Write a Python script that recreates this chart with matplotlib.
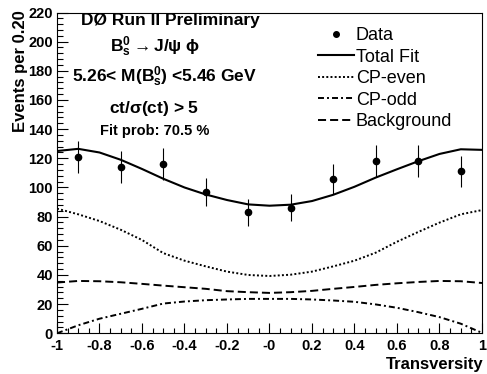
import numpy as np
import matplotlib
matplotlib.use("Agg")
import matplotlib.pyplot as plt
from matplotlib.lines import Line2D

plt.rcParams['font.family'] = ['Liberation Sans', 'DejaVu Sans']
plt.rcParams['mathtext.fontset'] = 'custom'
plt.rcParams['mathtext.rm'] = 'Liberation Sans:bold'
plt.rcParams['mathtext.it'] = 'Liberation Sans:bold'
plt.rcParams['mathtext.bf'] = 'Liberation Sans:bold'
plt.rcParams['lines.scale_dashes'] = False

# binned data (bin width 0.2 in transversity)
bin_centers = [-0.9, -0.7, -0.5, -0.3, -0.1, 0.1, 0.3, 0.5, 0.7, 0.9]
counts = [121, 114, 116, 97, 83, 86, 106, 118, 118, 111]
count_errors = [11.0, 10.7, 10.8, 9.8, 9.1, 9.3, 10.3, 10.9, 10.9, 10.5]

# fit curves sampled every 0.1
curve_x = [-1.0, -0.9, -0.8, -0.7, -0.6, -0.5, -0.4, -0.3, -0.2, -0.1, 0.0,
           0.1, 0.2, 0.3, 0.4, 0.5, 0.6, 0.7, 0.8, 0.9, 1.0]
total_fit = [125.0, 126.5, 124.0, 119.0, 112.7, 106.0, 100.0, 95.2, 91.4, 88.4, 87.5,
             88.2, 90.7, 95.0, 100.5, 106.8, 112.5, 118.0, 123.0, 126.2, 125.8]
cp_even = [85.5, 81.6, 77.0, 71.0, 64.0, 55.0, 49.8, 45.9, 42.3, 40.0, 39.3,
           40.2, 42.3, 45.9, 49.8, 55.3, 62.8, 69.5, 75.9, 81.6, 84.5]
cp_odd = [0.0, 5.5, 10.0, 13.4, 16.8, 20.4, 21.8, 22.7, 23.2, 23.6, 23.6,
          23.6, 23.2, 22.5, 21.6, 19.8, 17.5, 14.5, 11.1, 6.6, 0.3]
background = [34.8, 35.9, 35.7, 35.0, 33.9, 32.7, 31.6, 30.5, 28.9, 28.2, 27.7,
              28.2, 29.1, 30.5, 31.8, 33.2, 34.3, 35.2, 35.9, 35.7, 34.5]

x_ticks = [-1.0, -0.8, -0.6, -0.4, -0.2, 0.0, 0.2, 0.4, 0.6, 0.8, 1.0]
x_tick_labels = ['-1', '-0.8', '-0.6', '-0.4', '-0.2', '-0', '0.2', '0.4', '0.6', '0.8', '1']
y_ticks = [0, 20, 40, 60, 80, 100, 120, 140, 160, 180, 200, 220]

W, H = 487, 374
fig = plt.figure(figsize=(W / 100, H / 100), dpi=100)
ax = fig.add_axes([57 / W, 1 - 333.3 / H, (482 - 57) / W, (333.3 - 12.5) / H])

ax.plot(curve_x, total_fit, color='black', lw=1.5, label='Total Fit')
ax.plot(curve_x, cp_even, color='black', lw=1.4, dashes=(1.4, 1.6), label='CP-even')
ax.plot(curve_x, cp_odd, color='black', lw=1.4, dashes=(4.3, 2.2, 1.4, 2.2), label='CP-odd')
ax.plot(curve_x, background, color='black', lw=1.4, dashes=(5.8, 2.9), label='Background')
ax.errorbar(bin_centers, counts, yerr=count_errors, fmt='o', color='black',
            ms=4.5, elinewidth=0.8, capsize=0)

ax.set_xlim(-1, 1)
ax.set_ylim(0, 220)
ax.set_xticks(x_ticks)
ax.set_xticklabels(x_tick_labels)
ax.set_xticks(np.arange(-1, 1.001, 0.05), minor=True)
ax.set_yticks(y_ticks)
ax.set_yticks(np.arange(0, 221, 4), minor=True)

ax.tick_params(axis='both', which='both', direction='in', top=False, right=False,
               width=0.8, labelsize=10.5)
ax.tick_params(axis='x', which='major', length=7, pad=4)
ax.tick_params(axis='x', which='minor', length=3.5)
ax.tick_params(axis='y', which='major', length=8, pad=3)
ax.tick_params(axis='y', which='minor', length=4.5)
for lab in ax.get_xticklabels() + ax.get_yticklabels():
    lab.set_fontweight('bold')
for sp in ax.spines.values():
    sp.set_linewidth(0.8)

fig.text(483 / W, 1 - 364 / H, 'Transversity', ha='right', va='center',
         fontsize=12, fontweight='bold')
fig.text(21 / W, 1 - 10 / H, 'Events per 0.20', ha='center', va='top',
         rotation=90, fontsize=12, fontweight='bold')

# run / selection info
info = [
    (170, 21, 'DØ Run II Preliminary', 12.5),
    (155, 47, r'B$_{s}^{0}\rightarrow$J/$\psi$ $\phi$', 12.5),
    (165, 77, r'5.26< M(B$_{s}^{0}$) <5.46 GeV', 12.5),
    (154, 108, r'ct/$\sigma$(ct) > 5', 12.5),
    (155, 131, 'Fit prob: 70.5 %', 10.5),
]
for px, py, s, fs in info:
    fig.text(px / W, 1 - py / H, s, ha='center', va='center',
             fontsize=fs, fontweight='bold')

data_handle = Line2D([], [], marker='o', ls='none', color='black', ms=4)
handles, labels = ax.get_legend_handles_labels()
leg = ax.legend([data_handle] + handles, ['Data'] + labels,
                loc='upper left', bbox_to_anchor=(318 / W, 1 - 27 / H),
                bbox_transform=fig.transFigure, frameon=False, fontsize=13,
                handlelength=2.0, handletextpad=0.1, labelspacing=0.25,
                borderpad=0, borderaxespad=0)

fig.savefig('out.png', dpi=100)
